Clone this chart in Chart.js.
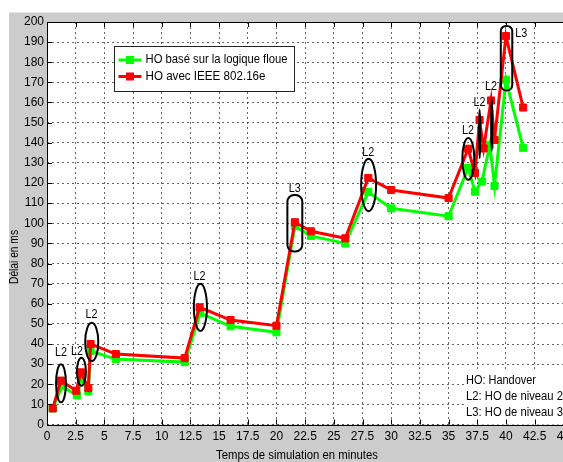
<!DOCTYPE html>
<html><head><meta charset="utf-8">
<script src="https://cdn.jsdelivr.net/npm/chart.js@4.4.0/dist/chart.umd.min.js"></script>
<style>html,body{margin:0;padding:0;overflow:hidden;background:#fff}canvas{display:block}</style>
</head><body><canvas id="c" width="575" height="462"></canvas>
<script>
// ---- data ----
const fuzzyLabel = 'HO basé sur la logique floue';
const fuzzyX = [0.5, 1.3, 2.6, 3.0, 3.6, 3.8, 6, 12, 13.35, 16, 20, 21.6, 23, 26, 28, 30, 35, 36.7, 37.3, 37.9, 38.6, 39.0, 40, 41.5];
const fuzzyY = [8, 19, 14.5, 23, 16.5, 36.5, 32.5, 31, 55.3, 48.8, 45.8, 98.5, 93.7, 90, 115.5, 107.4, 103.5, 127.5, 115.7, 120.7, 139, 118.5, 171.3, 137.5];
const ieeeLabel = 'HO avec IEEE 802.16e';
const ieeeX = [0.5, 1.2, 2.55, 2.95, 3.6, 3.8, 6, 12, 13.3, 16, 20, 21.6, 23, 26, 28, 30, 35, 36.7, 37.3, 37.7, 38.05, 38.7, 39.0, 40, 41.5];
const ieeeY = [8, 21.8, 16.8, 25.9, 18.2, 40, 35, 33, 58.2, 51.9, 49.1, 100.5, 96, 92.5, 122.5, 116.5, 112.5, 137, 125, 151.3, 137.2, 161, 141.4, 193, 157.5];

const xTickValues = [0, 2.5, 5, 7.5, 10, 12.5, 15, 17.5, 20, 22.5, 25, 27.5, 30, 32.5, 35, 37.5, 40, 42.5, 45];
const xTickLabels = ['0', '2.5', '5', '7.5', '10', '12.5', '15', '17.5', '20', '22.5', '25', '27.5', '30', '32.5', '35', '37.5', '40', '42.5', '45'];
const yTickValues = [0, 10, 20, 30, 40, 50, 60, 70, 80, 90, 100, 110, 120, 130, 140, 150, 160, 170, 180, 190, 200];
const yTickLabels = ['0', '10', '20', '30', '40', '50', '60', '70', '80', '90', '100', '110', '120', '130', '140', '150', '160', '170', '180', '190', '200'];

const xTitle = 'Temps de simulation en minutes';
const yTitle = 'Délai en ms';
const noteLines = ['HO: Handover', 'L2: HO de niveau 2', 'L3: HO de niveau 3'];

// handover annotations (data units): centre, half extents, label position
const hoMarks = [
  {label: 'L2', x: 1.22, y: 20.5, rx: 0.43, ry: 9.5, lx: 1.22, ly: 35.5, shape: 'ellipse'},
  {label: 'L2', x: 3.0, y: 26.2, rx: 0.39, ry: 7, lx: 2.62, ly: 36, shape: 'ellipse'},
  {label: 'L2', x: 3.9, y: 41, rx: 0.57, ry: 9.5, lx: 3.87, ly: 54.6, shape: 'ellipse'},
  {label: 'L2', x: 13.37, y: 58.2, rx: 0.57, ry: 11.7, lx: 13.3, ly: 73.4, shape: 'ellipse'},
  {label: 'L3', x: 21.6, y: 100, rx: 0.65, ry: 14, lx: 21.6, ly: 117, shape: 'capsule'},
  {label: 'L2', x: 28.03, y: 119, rx: 0.65, ry: 13, lx: 28.0, ly: 135, shape: 'ellipse'},
  {label: 'L2', x: 36.72, y: 132, rx: 0.52, ry: 10.4, lx: 36.7, ly: 146, shape: 'ellipse'},
  {label: 'L2', x: 37.71, y: 144.3, rx: 0.05, ry: 12, lx: 37.7, ly: 160, shape: 'ellipse'},
  {label: 'L2', x: 38.76, y: 149, rx: 0.05, ry: 13, lx: 38.7, ly: 168, shape: 'ellipse'},
  {label: 'L3', x: 40.05, y: 182, rx: 0.5, ry: 16, lx: 41.33, ly: 194, shape: 'capsule'}
];

const FONT = 'Liberation Sans, Arial, sans-serif';
const GREEN = '#00ff00', RED = '#ff0000';

const toPts = (xs, ys) => xs.map((x, i) => ({x: x, y: ys[i]}));

const deco = {
  id: 'deco',
  beforeDraw(chart) {
    const {ctx, chartArea: a} = chart;
    ctx.save();
    ctx.fillStyle = '#ffffff';
    ctx.fillRect(0, 0, chart.width, chart.height);
    ctx.fillStyle = '#cccccc';
    ctx.fillRect(9, 12.5, chart.width - 9, chart.height - 12.5);
    ctx.fillStyle = '#ffffff';
    ctx.fillRect(a.left, a.top, a.right - a.left, a.bottom - a.top);
    ctx.restore();
  },
  beforeDatasetsDraw(chart) {
    const {ctx, chartArea: a} = chart;
    ctx.save();
    // note box (covers the grid)
    ctx.fillStyle = '#ffffff';
    ctx.fillRect(464, 371, a.right - 464, a.bottom - 371);
    ctx.fillStyle = '#000';
    ctx.font = '12px ' + FONT;
    ctx.textBaseline = 'middle';
    ctx.textAlign = 'left';
    const ys = [380.7, 396.7, 412.3];
    const mw = [70, 97, 97];
    noteLines.forEach((t, i) => ctx.fillText(t, 466, ys[i], mw[i]));
    ctx.restore();
  },
  afterDatasetsDraw(chart) {
    const {ctx, chartArea: a, scales: {x, y}} = chart;
    ctx.save();
    // annotations
    ctx.strokeStyle = '#000';
    ctx.lineWidth = 2;
    ctx.fillStyle = '#000';
    ctx.font = '12px ' + FONT;
    ctx.textAlign = 'center';
    ctx.textBaseline = 'middle';
    hoMarks.forEach(m => {
      const cx = x.getPixelForValue(m.x), cy = y.getPixelForValue(m.y);
      const rx = Math.abs(x.getPixelForValue(m.x + m.rx) - cx);
      const ry = Math.abs(y.getPixelForValue(m.y + m.ry) - cy);
      ctx.beginPath();
      if (m.shape === 'capsule') {
        ctx.roundRect(cx - rx, cy - ry, 2 * rx, 2 * ry, rx * 0.9);
      } else {
        ctx.ellipse(cx, cy, Math.max(rx, 0.5), ry, 0, 0, Math.PI * 2);
      }
      ctx.stroke();
      ctx.fillText(m.label, x.getPixelForValue(m.lx), y.getPixelForValue(m.ly), 12);
    });
    // axes box
    ctx.lineWidth = 1;
    ctx.strokeStyle = '#000';
    ctx.beginPath();
    ctx.rect(Math.round(a.left) + 0.5, Math.round(a.top) + 0.5, Math.round(a.right - a.left), Math.round(a.bottom - a.top));
    ctx.stroke();
    // inward ticks
    ctx.beginPath();
    xTickValues.forEach(v => {
      const px = Math.round(x.getPixelForValue(v)) + 0.5;
      ctx.moveTo(px, a.bottom); ctx.lineTo(px, a.bottom - 5);
      ctx.moveTo(px, a.top); ctx.lineTo(px, a.top + 5);
    });
    yTickValues.forEach(v => {
      const py = Math.round(y.getPixelForValue(v)) + 0.5;
      ctx.moveTo(a.left, py); ctx.lineTo(a.left + 5, py);
    });
    ctx.stroke();
    // legend
    ctx.fillStyle = '#ffffff';
    ctx.fillRect(114.5, 46.5, 180, 45);
    ctx.strokeStyle = '#222';
    ctx.lineWidth = 1;
    ctx.strokeRect(114.5, 46.5, 180, 45);
    const ds = chart.data.datasets;
    const legendRows = [60, 76.5];
    ds.forEach((d, i) => {
      const ly = legendRows[i];
      ctx.strokeStyle = d.borderColor;
      ctx.lineWidth = 3;
      ctx.beginPath();
      ctx.moveTo(118.5, ly); ctx.lineTo(141.5, ly);
      ctx.stroke();
      ctx.fillStyle = d.borderColor;
      ctx.fillRect(126, ly - 4, 8, 8);
      ctx.fillStyle = '#000';
      ctx.font = '12px ' + FONT;
      ctx.textAlign = 'left';
      ctx.textBaseline = 'middle';
      ctx.fillText(d.label, 145.5, ly, i === 0 ? 142 : 120);
    });
    // axis titles
    ctx.fillStyle = '#000';
    ctx.font = '12px ' + FONT;
    ctx.textAlign = 'center';
    ctx.textBaseline = 'middle';
    ctx.fillText(xTitle, 297, 455.5, 162);
    ctx.translate(15, 257);
    ctx.rotate(-Math.PI / 2);
    ctx.fillText(yTitle, 0, 0, 54);
    ctx.restore();
  }
};

new Chart(document.getElementById('c').getContext('2d'), {
  type: 'line',
  data: {
    datasets: [
      {label: fuzzyLabel, data: toPts(fuzzyX, fuzzyY), borderColor: GREEN, backgroundColor: GREEN,
       borderWidth: 3, pointStyle: 'rect', pointRadius: 5, pointBorderWidth: 1, tension: 0, order: 1},
      {label: ieeeLabel, data: toPts(ieeeX, ieeeY), borderColor: RED, backgroundColor: RED,
       borderWidth: 3, pointStyle: 'rect', pointRadius: 5, pointBorderWidth: 1, tension: 0, order: 0}
    ]
  },
  options: {
    responsive: false,
    animation: false,
    devicePixelRatio: 1,
    layout: {padding: {top: 22, right: 10.5, left: 0, bottom: 0}},
    plugins: {legend: {display: false}, tooltip: {enabled: false}},
    scales: {
      x: {
        type: 'linear', min: 0, max: 45,
        afterBuildTicks: s => { s.ticks = xTickValues.map(v => ({value: v})); },
        ticks: {callback: (v, i) => xTickLabels[i], font: {family: FONT, size: 12}, color: '#000',
                padding: 5, maxRotation: 0, autoSkip: false},
        grid: {color: 'rgba(0,0,0,0.6)', lineWidth: 1, drawTicks: false},
        border: {display: false, dash: [2, 3]},
        afterFit: s => { s.height = 37.5; }
      },
      y: {
        type: 'linear', min: 0, max: 200,
        afterBuildTicks: s => { s.ticks = yTickValues.map(v => ({value: v})); },
        ticks: {callback: (v, i) => yTickLabels[i], font: {family: FONT, size: 12}, color: '#000',
                padding: 3, autoSkip: false},
        grid: {color: 'rgba(0,0,0,0.6)', lineWidth: 1, drawTicks: false},
        border: {display: false, dash: [2, 3]},
        afterFit: s => { s.width = 47; }
      }
    }
  },
  plugins: [deco]
});
</script>
</body></html>
